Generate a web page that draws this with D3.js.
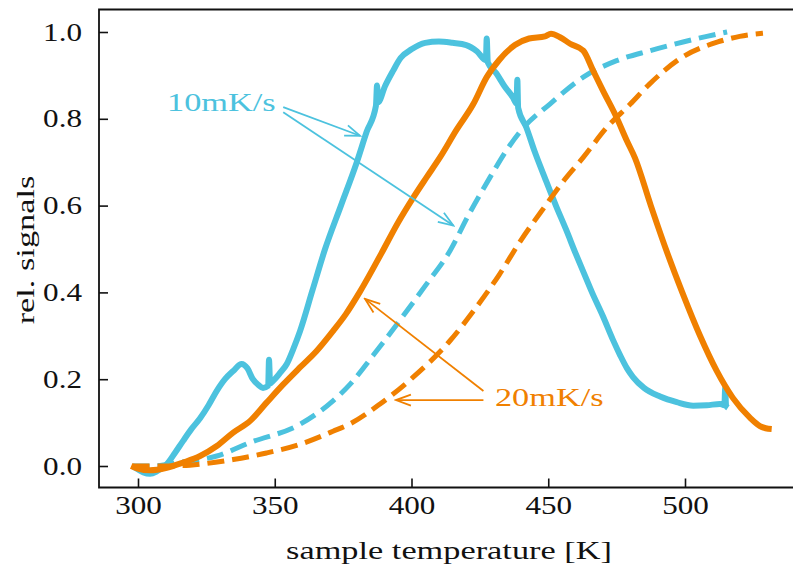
<!DOCTYPE html>
<html>
<head>
<meta charset="utf-8">
<script src="https://cdn.jsdelivr.net/npm/d3@7"></script>
<style>
  html, body { margin: 0; padding: 0; background: #ffffff; }
  svg { display: block; }
</style>
</head>
<body>
<script>
// ---------------- data ----------------
const xTicks = [300, 350, 400, 450, 500];
const yTicks = [0.0, 0.2, 0.4, 0.6, 0.8, 1.0];

// measured signal, 10 mK/s (cyan, solid)
const signal10T = [298, 300, 302, 304.4, 307, 310.5, 313.5, 316.5, 319.5, 322.7, 325.8, 328.8, 331.8, 334.8, 337.9,
  340, 342, 344, 345.7, 347.6, 347.9, 348.3, 349.4, 352, 354.4, 356.8, 359.2, 363.8, 368.4, 374.2, 380, 383.6,
  387.0, 387.4, 387.8, 390.3, 393.3, 396, 400, 405, 410, 415, 420, 424, 427.2, 427.5, 427.9, 431, 434, 437,
  438.4, 438.7, 439.0, 442, 445, 449, 452.8, 456.5, 460, 463, 466, 470, 473.7, 476.3, 478.8, 481, 485, 490.9,
  497, 503, 508, 512.8, 514.4, 514.7, 515.0, 515.7];
const signal10V = [0.0, -0.008, -0.015, -0.018, -0.012, 0.004, 0.03, 0.058, 0.085, 0.11, 0.14, 0.173, 0.2, 0.219, 0.235,
  0.225, 0.2, 0.187, 0.18, 0.185, 0.245, 0.19, 0.196, 0.215, 0.235, 0.27, 0.31, 0.405, 0.50, 0.60, 0.70, 0.77,
  0.83, 0.877, 0.838, 0.875, 0.911, 0.94, 0.96, 0.975, 0.978, 0.975, 0.97, 0.955, 0.935, 0.985, 0.93, 0.905, 0.875, 0.85,
  0.835, 0.89, 0.825, 0.78, 0.725, 0.66, 0.60, 0.545, 0.49, 0.445, 0.40, 0.345, 0.29, 0.255, 0.225, 0.205, 0.18, 0.16,
  0.147, 0.139, 0.14, 0.143, 0.14, 0.18, 0.14, 0.134];

// measured signal, 20 mK/s (orange, solid)
const signal20T = [297.5, 300, 304.4, 310.5, 316.5, 322.7, 328.8, 334.8, 341, 347, 353.1, 359.2, 365.3, 371.3, 376,
  381, 389, 395, 400.7, 405.5, 410.4, 416.5, 422.6, 427.5, 432, 437.8, 443, 448.8, 451, 454.3, 458, 462.8, 466.4, 470,
  475, 478.7, 481.7, 487.5, 493, 499, 505.5, 511.6, 517.5, 523.8, 527.4, 529.5, 531.7];
const signal20V = [0.0, -0.006, -0.01, -0.004, 0.008, 0.023, 0.046, 0.077, 0.104, 0.146, 0.188, 0.227, 0.265, 0.311, 0.35,
  0.40, 0.49, 0.56, 0.619, 0.665, 0.711, 0.775, 0.834, 0.896, 0.935, 0.97, 0.985, 0.99, 0.996, 0.988, 0.973, 0.957, 0.911, 0.865,
  0.803, 0.75, 0.71, 0.60, 0.50, 0.40, 0.30, 0.219, 0.157, 0.111, 0.092, 0.087, 0.085];

// model curves (dashed)
const fit10T = [298, 305, 315, 328.8, 341, 359.2, 371.3, 377.5, 386, 395.8, 405, 414.1, 421, 428.7, 435, 441, 450.6,
  462.8, 475, 487.2, 499.3, 508, 515.4];
const fit10V = [0, 0.0, 0.008, 0.023, 0.054, 0.096, 0.15, 0.188, 0.255, 0.336, 0.415, 0.496, 0.58, 0.665, 0.73, 0.78, 0.834,
  0.896, 0.934, 0.957, 0.977, 0.99, 1.0];
const fit20T = [298, 310, 319, 334.8, 347, 359.2, 371.3, 377.5, 388.5, 400.5, 414, 423, 432, 440, 449, 456, 462.8, 471.4,
  480, 487, 499, 512, 520, 528.5];
const fit20V = [0, 0.0, 0.002, 0.015, 0.03, 0.05, 0.08, 0.097, 0.143, 0.204, 0.288, 0.36, 0.44, 0.52, 0.6, 0.66, 0.711, 0.78,
  0.834, 0.88, 0.942, 0.977, 0.99, 0.997];

// annotations: label position and arrow tips (data coordinates)
const label10 = {text: "10mK/s", T: 310.6, v: 0.817};
const arrows10 = [
  {from: [353.1, 0.827], to: [381.2, 0.761]},
  {from: [353.1, 0.815], to: [415.3, 0.554]}
];
const label20 = {text: "20mK/s", T: 430.5, v: 0.138};
const arrows20 = [
  {from: [426.3, 0.173], to: [383.0, 0.385]},
  {from: [426.3, 0.152], to: [394.3, 0.152]}
];

const xLabel = "sample temperature [K]";
const yLabel = "rel. signals";

// ---------------- drawing ----------------
const W = 793, H = 572;
const CYAN = "#4cc2de", ORANGE = "#f08000";
const pLeft = 99, pTop = 9.5, pBottom = 487.5, pRight = 800;
const FONT = "'Liberation Serif', 'Times New Roman', serif";

const svg = d3.select("body").append("svg").attr("width", W).attr("height", H);

const x = d3.scaleLinear().domain([300, 500]).range([138, 685]);
const y = d3.scaleLinear().domain([0, 1]).range([466, 32]);

const zip = (T, V) => T.map((t, i) => [t, V[i]]);
const line = d3.line().x(d => x(d[0])).y(d => y(d[1])).curve(d3.curveMonotoneX);

const series = [
  {data: zip(signal10T, signal10V), color: CYAN, dash: null, w: 6},
  {data: zip(fit10T, fit10V), color: CYAN, dash: "17,8", w: 5},
  {data: zip(signal20T, signal20V), color: ORANGE, dash: null, w: 6},
  {data: zip(fit20T, fit20V), color: ORANGE, dash: "17,8", w: 5}
];

svg.append("g").selectAll("path").data(series).join("path")
  .attr("d", d => line(d.data))
  .attr("fill", "none")
  .attr("stroke", d => d.color)
  .attr("stroke-width", d => d.w)
  .attr("stroke-linejoin", "round")
  .attr("stroke-dasharray", d => d.dash);

// axes
const TS = 1.245; // horizontal stretch of tick labels
const xAxis = svg.append("g").attr("transform", `translate(0,${pBottom})`)
  .call(d3.axisBottom(x).tickValues(xTicks).tickFormat(d3.format("d")).tickSize(-9).tickPadding(9));
const yAxis = svg.append("g").attr("transform", `translate(${pLeft},0)`)
  .call(d3.axisLeft(y).tickValues(yTicks).tickFormat(d3.format(".1f")).tickSize(-9).tickPadding(17));
[xAxis, yAxis].forEach(g => {
  g.select(".domain").remove();
  g.selectAll(".tick line").attr("stroke", "#111").attr("stroke-width", 1.6);
  g.selectAll(".tick text").attr("font-family", FONT).attr("font-size", 25).attr("fill", "#111");
});
xAxis.selectAll(".tick text").attr("transform", `scale(${TS},1)`);
yAxis.selectAll(".tick text").attr("x", -17 / TS).attr("transform", `scale(${TS},1)`);

// spines (left, top, bottom; right spine lies outside the picture)
const spines = svg.append("g").attr("stroke", "#111").attr("stroke-width", 1.8).attr("fill", "none");
spines.append("path").attr("d", `M${pRight},${pTop}H${pLeft}V${pBottom}H${pRight}`).attr("stroke-linejoin", "miter");

// axis labels
const LS = 1.32;
svg.append("text").attr("transform", `translate(449,559) scale(${LS},1)`)
  .attr("text-anchor", "middle").attr("font-family", FONT).attr("font-size", 26).attr("fill", "#111")
  .text(xLabel);
svg.append("text").attr("transform", `translate(34,250) rotate(-90) scale(${LS},1)`)
  .attr("text-anchor", "middle").attr("font-family", FONT).attr("font-size", 26).attr("fill", "#111")
  .text(yLabel);

// arrowheads
const defs = svg.append("defs");
[["head10", CYAN], ["head20", ORANGE]].forEach(([id, c]) => {
  defs.append("marker").attr("id", id).attr("markerUnits", "userSpaceOnUse")
    .attr("viewBox", "-18 -9 20 18").attr("refX", 0).attr("refY", 0)
    .attr("markerWidth", 20).attr("markerHeight", 18).attr("orient", "auto")
    .append("path").attr("d", "M-15,-5.5L0,0L-15,5.5").attr("fill", "none")
    .attr("stroke", c).attr("stroke-width", 1.8).attr("stroke-linejoin", "miter");
});

function drawAnnotation(lbl, arrows, color, marker) {
  svg.append("g").selectAll("line").data(arrows).join("line")
    .attr("x1", d => x(d.from[0])).attr("y1", d => y(d.from[1]))
    .attr("x2", d => x(d.to[0])).attr("y2", d => y(d.to[1]))
    .attr("stroke", color).attr("stroke-width", 1.8)
    .attr("marker-end", `url(#${marker})`);
  svg.append("text").attr("transform", `translate(${x(lbl.T)},${y(lbl.v)}) scale(${LS},1)`)
    .attr("font-family", FONT).attr("font-size", 26).attr("fill", color)
    .text(lbl.text);
}
drawAnnotation(label10, arrows10, CYAN, "head10");
drawAnnotation(label20, arrows20, ORANGE, "head20");
</script>
</body>
</html>
